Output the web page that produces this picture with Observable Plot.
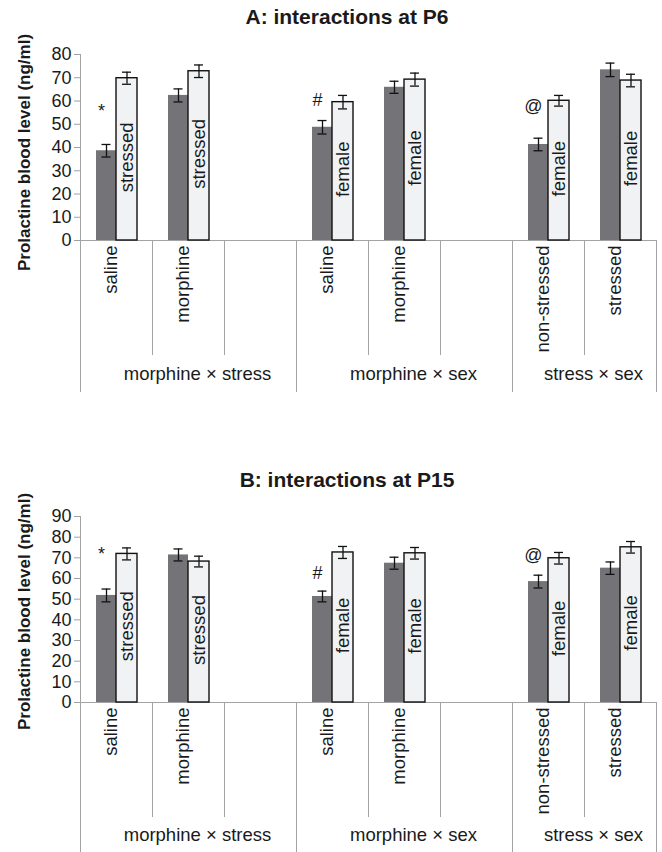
<!DOCTYPE html>
<html><head><meta charset="utf-8">
<script src="https://cdn.jsdelivr.net/npm/d3@7"></script>
<script src="https://cdn.jsdelivr.net/npm/@observablehq/plot@0.6"></script>
<style>
body{margin:0;background:#fff;}
#wrap{position:relative;width:662px;height:852px;font-family:"Liberation Sans",Arial,sans-serif;overflow:hidden;}
.title{position:absolute;left:0;width:662px;padding-left:32px;box-sizing:border-box;text-align:center;font-weight:bold;font-size:21px;line-height:21px;color:#1a1a1a;}
.panel{position:absolute;left:0;overflow:visible !important;}
g[aria-label^="y-axis"] line, g[aria-label^="y-axis"] path {stroke:#a0a0a0;}
g[aria-label^="y-axis"] text {font-size:18px;fill:#1a1a1a;}
</style></head>
<body><div id="wrap"></div>
<script>
// ---- shared categories ----
const slots = ["ms-saline","ms-morphine","ms-gap","mx-saline","mx-morphine","mx-gap","ss-non","ss-stressed"];
const slotLabels = ["saline","morphine","","saline","morphine","","non-stressed","stressed"];
const groupLabels = ["morphine × stress","morphine × sex","stress × sex"];
const groupFirstSlot = ["ms-saline","mx-saline","ss-non"];
const groupSize = [3,3,2];
const innerSepSlots = ["ms-morphine","ms-gap","mx-morphine","mx-gap","ss-stressed"];
const barSlots = ["ms-saline","ms-morphine","mx-saline","mx-morphine","ss-non","ss-stressed"];
const lightLabels = ["stressed","stressed","female","female","female","female"];
const yTitle = "Prolactine blood level (ng/ml)";

// ---- Panel A: P6 ----
const titleA = "A: interactions at P6";
const darkA = [38.6, 62.4, 48.7, 65.9, 41.3, 73.4];
const darkErrA = [2.7, 2.8, 2.9, 2.6, 2.7, 2.9];
const lightA = [69.8, 72.8, 59.5, 69.2, 60.1, 68.8];
const lightErrA = [2.6, 2.7, 2.9, 2.8, 2.3, 2.7];
const ticksA = [0,10,20,30,40,50,60,70,80];
const notesA = ["*","#","@"];
const noteSlotsA = ["ms-saline","mx-saline","ss-non"];
const noteValuesA = [55.5, 60.2, 57.6];

// ---- Panel B: P15 ----
const titleB = "B: interactions at P15";
const darkB = [51.8, 71.4, 51.3, 67.4, 58.5, 65.0];
const darkErrB = [3.1, 2.9, 2.6, 2.9, 3.1, 3.0];
const lightB = [71.9, 68.2, 72.6, 72.2, 69.8, 75.1];
const lightErrB = [2.9, 2.6, 2.9, 2.8, 2.8, 2.8];
const ticksB = [0,10,20,30,40,50,60,70,80,90];
const notesB = ["*","#","@"];
const noteSlotsB = ["ms-saline","mx-saline","ss-non"];
const noteValuesB = [71.5, 62.4, 71.1];

const gray = "#a3a3a3";
const ink = "#1a1a1a";

function makePanel(p) {
  const rows = barSlots.map((s,i)=>({slot:s, dark:p.dark[i], darkErr:p.darkErr[i], light:p.light[i], lightErr:p.lightErr[i], label:lightLabels[i]}));
  const notes = p.notes.map((t,i)=>({text:t, slot:p.noteSlots[i], v:p.noteValues[i]}));
  const cats = slots.map((s,i)=>({slot:s, label:slotLabels[i]})).filter(d=>d.label);
  const groupMarks = groupLabels.map((g,i)=>Plot.text([g], {
    x: () => groupFirstSlot[i], text: d => d, frameAnchor: "bottom",
    dy: p.groupDy, dx: groupSize[i]*36 - 36 + 9, fontSize: 18.5, fill: ink
  }));
  return Plot.plot({
    width: 662,
    height: p.height,
    marginLeft: 80,
    marginRight: 6,
    marginTop: 20,
    marginBottom: p.marginBottom,
    style: {fontFamily: '"Liberation Sans", Arial, sans-serif', fontSize: "18px", background: "transparent", color: ink, overflow: "visible"},
    x: {type: "band", domain: slots, padding: 0, axis: null},
    y: {domain: [0, p.top], ticks: p.ticks, tickSize: 6, tickPadding: 3, label: null},
    marks: [
      // separators and axis lines
      Plot.ruleX([slots[0]], {x: d=>d, y1: p.top, y2: 0, dx: -36, insetBottom: -p.marginBottom, stroke: gray}),
      Plot.ruleX([slots[slots.length-1]], {x: d=>d, y1: 0, y2: 0, dx: 36, insetBottom: -p.marginBottom, stroke: gray}),
      Plot.ruleX(groupFirstSlot.slice(1), {x: d=>d, y1: 0, y2: 0, dx: -36, insetBottom: -p.marginBottom, stroke: gray}),
      Plot.ruleX(innerSepSlots, {x: d=>d, y1: 0, y2: 0, dx: -36, insetBottom: -115, stroke: gray}),
      Plot.ruleY([0], {stroke: gray}),
      // bars
      Plot.barY(rows, {x: "slot", y: "dark", fill: "#737378", insetLeft: 16, insetRight: 36}),
      Plot.barY(rows, {x: "slot", y: "light", fill: "#f1f2f4", stroke: "#111", strokeWidth: 1.4, insetLeft: 36, insetRight: 15}),
      // error bars
      Plot.ruleX(rows, {x: "slot", y1: d=>d.dark-d.darkErr, y2: d=>d.dark+d.darkErr, dx: -10, stroke: "#111", strokeWidth: 1.3}),
      Plot.tickY(rows, {x: "slot", y: d=>d.dark+d.darkErr, insetLeft: 21.5, insetRight: 41.5, stroke: "#111", strokeWidth: 1.3}),
      Plot.tickY(rows, {x: "slot", y: d=>d.dark-d.darkErr, insetLeft: 21.5, insetRight: 41.5, stroke: "#111", strokeWidth: 1.3}),
      Plot.ruleX(rows, {x: "slot", y1: d=>d.light-d.lightErr, y2: d=>d.light+d.lightErr, dx: 10.5, stroke: "#111", strokeWidth: 1.3}),
      Plot.tickY(rows, {x: "slot", y: d=>d.light+d.lightErr, insetLeft: 42, insetRight: 21, stroke: "#111", strokeWidth: 1.3}),
      Plot.tickY(rows, {x: "slot", y: d=>d.light-d.lightErr, insetLeft: 42, insetRight: 21, stroke: "#111", strokeWidth: 1.3}),
      // labels inside light bars
      Plot.text(rows, {x: "slot", y: d=>d.light/2, text: "label", rotate: -90, dx: 10.5, dy: -2, fontSize: 18.5, fill: ink}),
      // significance marks
      Plot.text(notes, {x: "slot", y: "v", text: "text", dx: -15, fontSize: 18, fill: ink}),
      // category labels
      Plot.text(cats, {x: "slot", text: "label", frameAnchor: "bottom", rotate: -90, textAnchor: "end", dy: 5, fontSize: 18.5, fill: ink}),
      ...groupMarks,
      // y title
      Plot.text([yTitle], {text: d=>d, frameAnchor: "left", textAnchor: "middle", lineAnchor: "middle", rotate: -90, dx: -56, dy: p.labelDy, fontSize: 17, fontWeight: "bold", fill: ink})
    ]
  });
}

const wrap = document.getElementById("wrap");
function addTitle(t, top) {
  const d = document.createElement("div");
  d.className = "title"; d.style.top = top + "px"; d.textContent = t;
  wrap.appendChild(d);
}
function addPanel(svg, top) {
  svg.classList.add("panel"); svg.style.top = top + "px";
  wrap.appendChild(svg);
}
addTitle(titleA, 6);
addPanel(makePanel({dark: darkA, darkErr: darkErrA, light: lightA, lightErr: lightErrA, top: 80, ticks: ticksA,
  notes: notesA, noteSlots: noteSlotsA, noteValues: noteValuesA, height: 358, marginBottom: 152, groupDy: 139, labelDy: 5}), 34);
addTitle(titleB, 469);
addPanel(makePanel({dark: darkB, darkErr: darkErrB, light: lightB, lightErr: lightErrB, top: 90, ticks: ticksB,
  notes: notesB, noteSlots: noteSlotsB, noteValues: noteValuesB, height: 356, marginBottom: 150, groupDy: 138, labelDy: 2}), 496);
</script>
</body></html>
